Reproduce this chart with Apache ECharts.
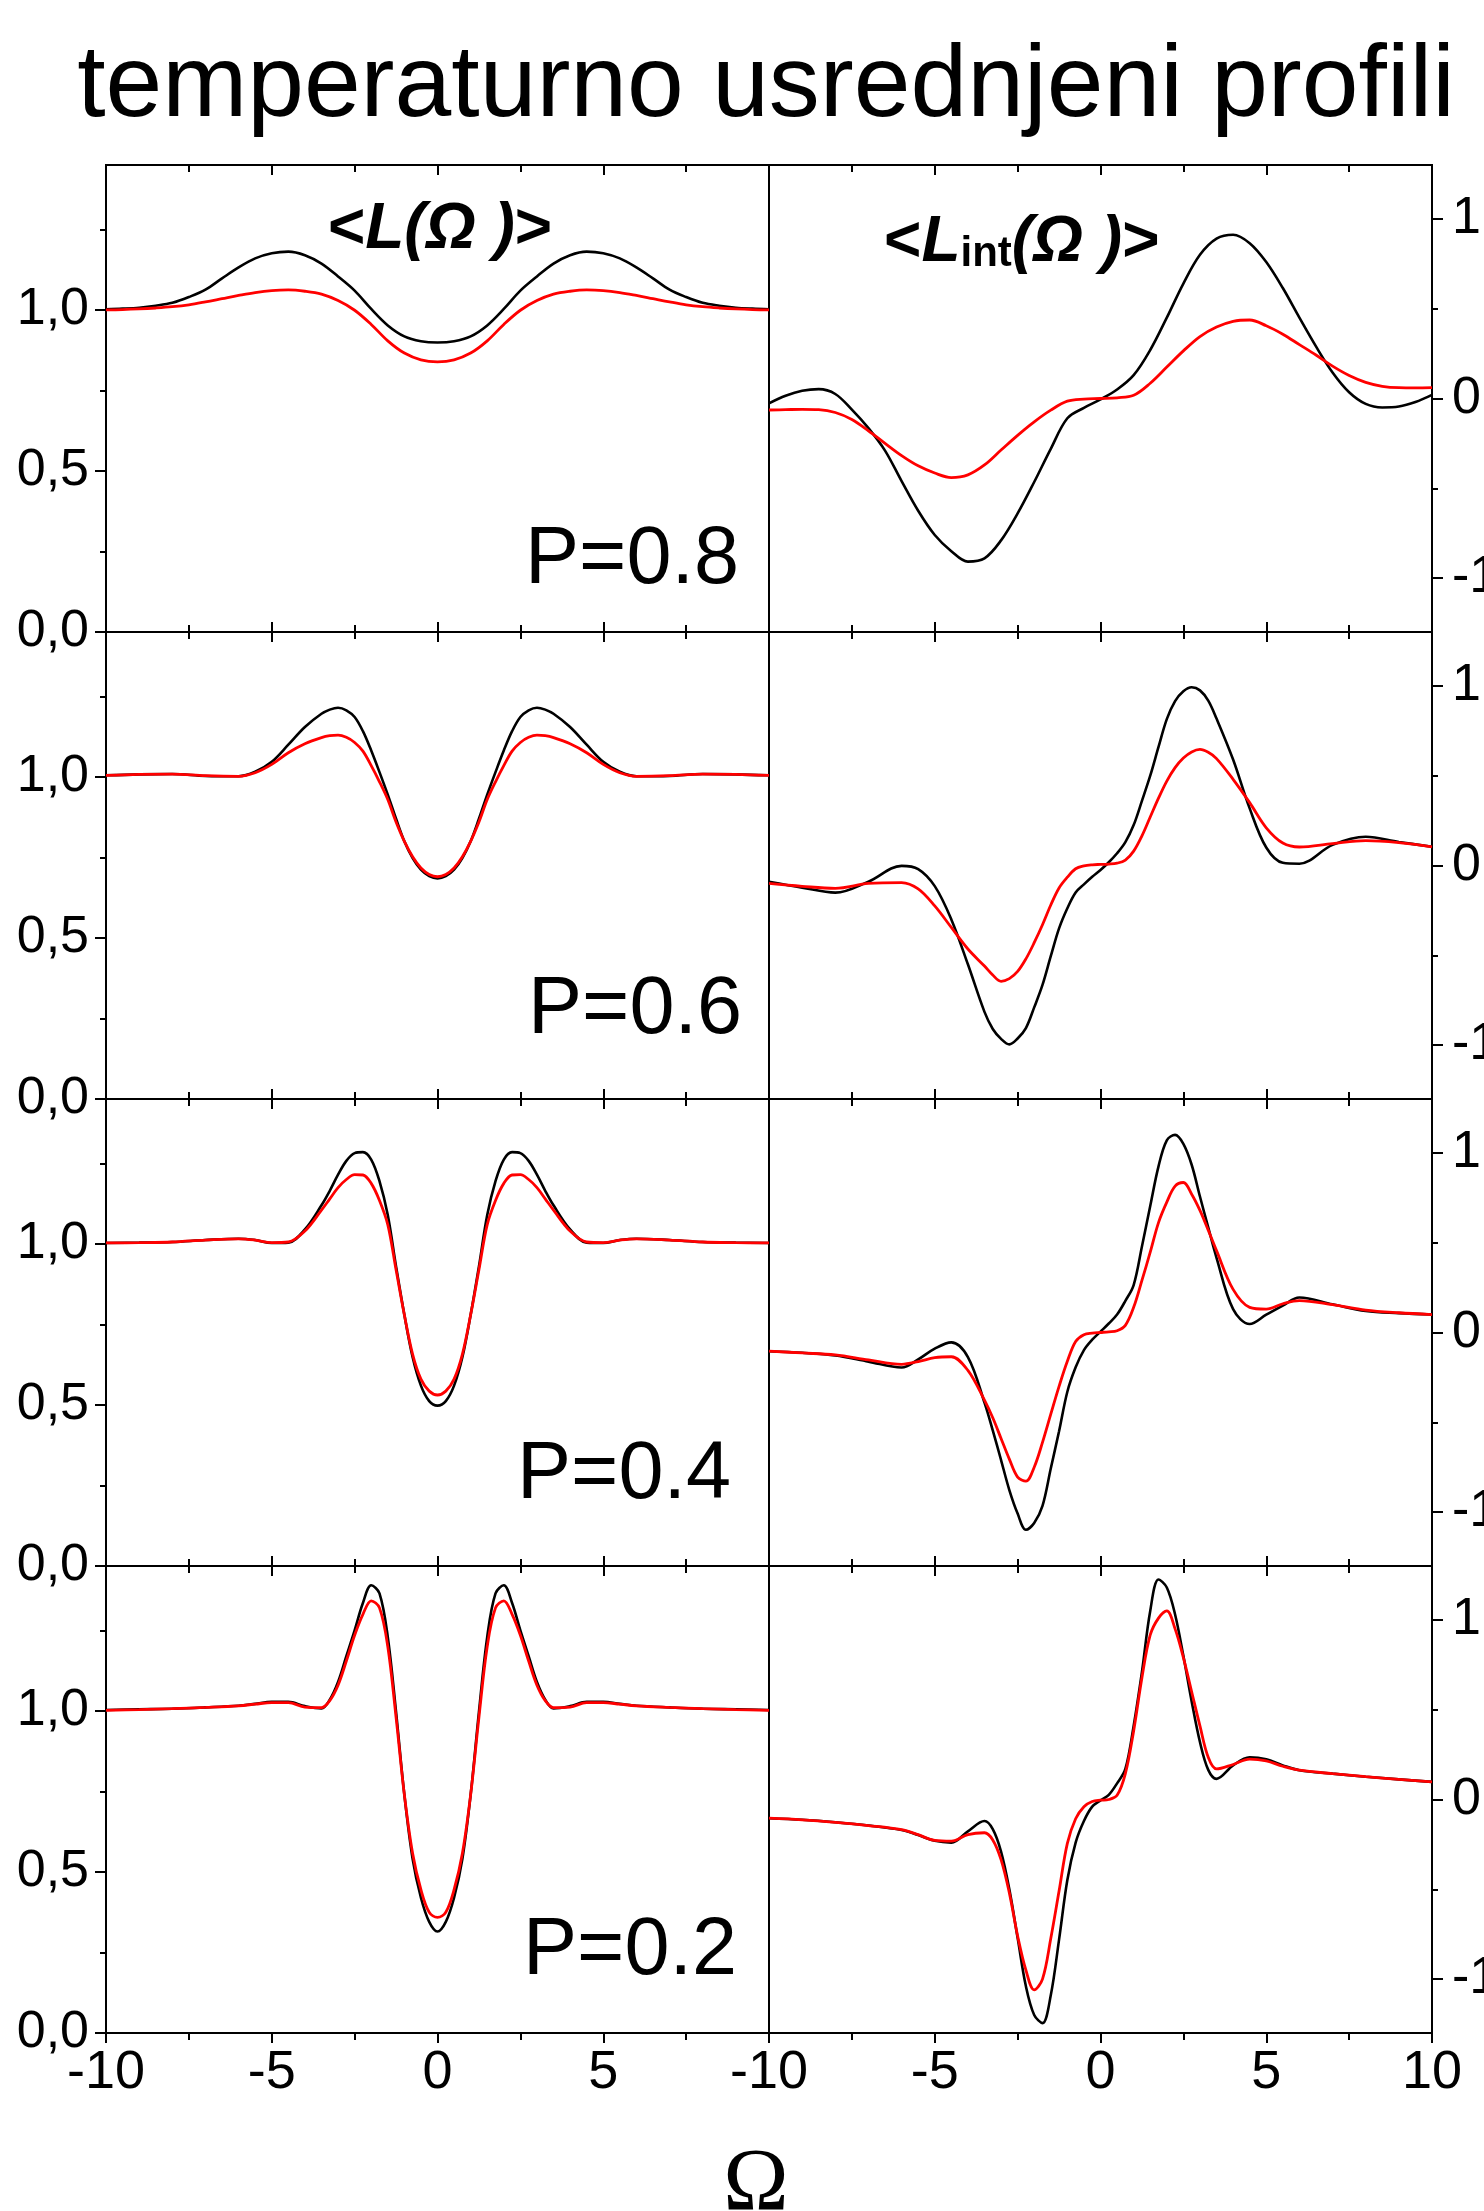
<!DOCTYPE html>
<html>
<head>
<meta charset="utf-8">
<script src="https://cdn.jsdelivr.net/npm/echarts@6/dist/echarts.min.js"></script>
<style>
  html, body { margin: 0; padding: 0; background: #fff; }
  #chart { width: 1484px; height: 2211px; }
</style>
</head>
<body>
<div id="chart"></div>
<script>
// ---- frequency grids (Ω) ----
const OMEGA_P08 = [-10,-9.5,-9,-8.5,-8,-7.5,-7,-6.5,-6,-5.5,-5,-4.5,-4,-3.5,-3,-2.5,-2,-1.5,-1,-0.5,0,
                   0.5,1,1.5,2,2.5,3,3.5,4,4.5,5,5.5,6,6.5,7,7.5,8,8.5,9,9.5,10];
const OMEGA_FINE = [-10,-9,-8,-7,-6,-5.5,-5,-4.5,-4,-3.5,-3.25,-3,-2.75,-2.5,-2.25,-2,-1.75,-1.5,-1.25,-1,-0.75,-0.5,-0.25,0,
                    0.25,0.5,0.75,1,1.25,1.5,1.75,2,2.25,2.5,2.75,3,3.25,3.5,4,4.5,5,5.5,6,7,8,9,10];

// ---- P = 0.8 ----
const L_P08_BLACK = [1.002,1.004,1.007,1.013,1.022,1.040,1.063,1.098,1.132,1.160,1.176,1.181,1.170,1.144,1.104,1.060,1.003,0.952,0.918,0.903,0.899,
                     0.903,0.918,0.952,1.003,1.060,1.104,1.144,1.170,1.181,1.176,1.160,1.132,1.098,1.063,1.040,1.022,1.013,1.007,1.004,1.002];
const L_P08_RED = [1.000,1.001,1.003,1.006,1.010,1.016,1.025,1.035,1.045,1.054,1.060,1.062,1.058,1.049,1.029,0.999,0.955,0.904,0.866,0.845,0.839,
                   0.845,0.866,0.904,0.955,0.999,1.029,1.049,1.058,1.062,1.060,1.054,1.045,1.035,1.025,1.016,1.010,1.006,1.003,1.001,1.000];
const LINT_P08_BLACK = [-0.027,0.015,0.043,0.052,0.025,-0.062,-0.165,-0.290,-0.460,-0.625,-0.760,-0.850,-0.908,-0.890,-0.790,-0.640,-0.465,-0.280,-0.110,-0.052,-0.005,
                        0.050,0.130,0.270,0.450,0.640,0.800,0.890,0.912,0.865,0.760,0.615,0.450,0.290,0.145,0.035,-0.030,-0.050,-0.045,-0.020,0.020];
const LINT_P08_RED = [-0.064,-0.062,-0.060,-0.062,-0.078,-0.117,-0.180,-0.250,-0.318,-0.375,-0.415,-0.440,-0.425,-0.370,-0.287,-0.205,-0.130,-0.065,-0.015,-0.003,0.000,
                      0.004,0.018,0.085,0.175,0.265,0.345,0.398,0.430,0.437,0.405,0.358,0.300,0.242,0.180,0.128,0.090,0.068,0.060,0.059,0.060];

// ---- P = 0.6 ----
const L_P06_BLACK = [1.005,1.008,1.009,1.003,1.002,1.016,1.047,1.100,1.155,1.196,1.209,1.215,1.207,1.186,1.142,1.082,1.015,0.945,0.870,0.800,0.748,0.712,0.692,0.685,
                     0.692,0.712,0.748,0.800,0.870,0.945,1.015,1.082,1.142,1.186,1.207,1.215,1.209,1.196,1.155,1.100,1.047,1.016,1.002,1.003,1.009,1.008,1.005];
const L_P06_RED = [1.005,1.008,1.009,1.004,1.002,1.013,1.039,1.075,1.103,1.122,1.128,1.130,1.123,1.107,1.080,1.035,0.985,0.930,0.860,0.800,0.752,0.717,0.697,0.690,
                   0.697,0.717,0.752,0.800,0.860,0.930,0.985,1.035,1.080,1.107,1.123,1.130,1.128,1.122,1.103,1.075,1.039,1.013,1.002,1.004,1.009,1.008,1.005];
const LINT_P06_BLACK = [-0.090,-0.123,-0.151,-0.090,-0.002,-0.020,-0.115,-0.300,-0.550,-0.815,-0.910,-0.965,-0.996,-0.963,-0.905,-0.790,-0.665,-0.505,-0.350,-0.238,-0.150,-0.105,-0.063,-0.025,
                        0.018,0.068,0.130,0.225,0.360,0.500,0.660,0.815,0.915,0.970,0.992,0.975,0.918,0.818,0.590,0.318,0.100,0.015,0.010,0.115,0.160,0.131,0.104];
const LINT_P06_RED = [-0.100,-0.116,-0.127,-0.100,-0.095,-0.130,-0.225,-0.345,-0.465,-0.560,-0.610,-0.645,-0.630,-0.590,-0.520,-0.430,-0.330,-0.220,-0.125,-0.065,-0.018,-0.002,0.004,0.006,
                      0.008,0.013,0.030,0.080,0.165,0.270,0.375,0.470,0.545,0.598,0.632,0.646,0.630,0.595,0.480,0.350,0.210,0.125,0.103,0.122,0.138,0.127,0.104];

// ---- P = 0.4 ----
const L_P04_BLACK = [1.003,1.004,1.006,1.012,1.016,1.012,1.003,1.004,1.045,1.120,1.165,1.215,1.258,1.282,1.285,1.262,1.195,1.090,0.930,0.780,0.648,0.560,0.512,0.498,
                     0.512,0.560,0.648,0.780,0.930,1.090,1.195,1.262,1.285,1.282,1.258,1.215,1.165,1.120,1.045,1.004,1.003,1.012,1.016,1.012,1.006,1.004,1.003];
const L_P04_RED = [1.003,1.004,1.006,1.012,1.016,1.012,1.004,1.006,1.040,1.105,1.140,1.175,1.200,1.215,1.214,1.188,1.135,1.060,0.920,0.780,0.657,0.580,0.543,0.531,
                   0.543,0.580,0.657,0.780,0.920,1.060,1.135,1.188,1.214,1.215,1.200,1.175,1.140,1.105,1.040,1.006,1.004,1.012,1.016,1.012,1.006,1.004,1.003];
const LINT_P04_BLACK = [-0.104,-0.113,-0.128,-0.162,-0.195,-0.150,-0.090,-0.055,-0.137,-0.390,-0.545,-0.710,-0.877,-1.008,-1.098,-1.060,-0.965,-0.757,-0.550,-0.330,-0.194,-0.098,-0.040,0.005,
                        0.050,0.100,0.176,0.264,0.479,0.704,0.925,1.070,1.100,1.050,0.934,0.757,0.585,0.416,0.130,0.047,0.099,0.150,0.195,0.157,0.120,0.108,0.100];
const LINT_P04_RED = [-0.104,-0.114,-0.125,-0.153,-0.177,-0.162,-0.140,-0.135,-0.211,-0.377,-0.475,-0.590,-0.705,-0.805,-0.828,-0.750,-0.612,-0.455,-0.300,-0.160,-0.050,-0.012,-0.004,0.000,
                      0.004,0.010,0.040,0.140,0.290,0.447,0.612,0.726,0.815,0.835,0.770,0.680,0.570,0.456,0.240,0.140,0.130,0.160,0.178,0.155,0.125,0.110,0.100];

// ---- P = 0.2 ----
const L_P02_BLACK = [1.003,1.005,1.007,1.011,1.016,1.022,1.028,1.028,1.015,1.008,1.035,1.090,1.170,1.250,1.335,1.390,1.365,1.230,0.997,0.740,0.540,0.420,0.345,0.315,
                     0.345,0.420,0.540,0.740,0.997,1.230,1.365,1.390,1.335,1.250,1.170,1.090,1.035,1.008,1.015,1.028,1.028,1.022,1.016,1.011,1.007,1.005,1.003];
const L_P02_RED = [1.002,1.004,1.007,1.011,1.016,1.021,1.026,1.026,1.012,1.010,1.032,1.080,1.155,1.235,1.300,1.342,1.320,1.200,0.980,0.740,0.557,0.445,0.375,0.359,
                   0.375,0.445,0.557,0.740,0.980,1.200,1.320,1.342,1.300,1.235,1.155,1.080,1.032,1.010,1.012,1.026,1.026,1.021,1.016,1.011,1.007,1.004,1.002];
const LINT_P02_BLACK = [-0.104,-0.113,-0.127,-0.145,-0.170,-0.198,-0.230,-0.240,-0.177,-0.120,-0.165,-0.290,-0.500,-0.770,-1.040,-1.200,-1.245,-1.090,-0.780,-0.448,-0.240,-0.120,-0.040,-0.005,
                        0.026,0.090,0.170,0.410,0.710,1.050,1.225,1.180,1.030,0.800,0.546,0.320,0.165,0.115,0.190,0.235,0.224,0.190,0.163,0.144,0.127,0.112,0.098];
const LINT_P02_RED = [-0.104,-0.113,-0.127,-0.145,-0.168,-0.196,-0.228,-0.232,-0.195,-0.185,-0.225,-0.335,-0.520,-0.760,-0.950,-1.060,-1.000,-0.774,-0.510,-0.244,-0.107,-0.040,-0.011,-0.004,
                      0.000,0.023,0.144,0.382,0.678,0.916,1.010,1.050,0.950,0.790,0.600,0.410,0.235,0.170,0.195,0.225,0.215,0.185,0.163,0.144,0.127,0.112,0.098];

// ---- axis ticks and texts ----
const L_MAJOR_TICKS = [0, 0.5, 1.0];
const L_MINOR_TICKS = [0.25, 0.75, 1.25];
const LINT_MAJOR_TICKS = [-1, 0, 1];
const LINT_MINOR_TICKS = [-0.5, 0.5];
const TITLE = 'temperaturno usrednjeni profili';
const P_LABELS = ['P=0.8', 'P=0.6', 'P=0.4', 'P=0.2'];
const X_NAME = 'Ω';

// rows top-to-bottom, columns: <L(Ω)>, <Lint(Ω)>
const PANELS = [
  [{ x: OMEGA_P08, black: L_P08_BLACK, red: L_P08_RED }, { x: OMEGA_P08, black: LINT_P08_BLACK, red: LINT_P08_RED }],
  [{ x: OMEGA_FINE, black: L_P06_BLACK, red: L_P06_RED }, { x: OMEGA_FINE, black: LINT_P06_BLACK, red: LINT_P06_RED }],
  [{ x: OMEGA_FINE, black: L_P04_BLACK, red: L_P04_RED }, { x: OMEGA_FINE, black: LINT_P04_BLACK, red: LINT_P04_RED }],
  [{ x: OMEGA_FINE, black: L_P02_BLACK, red: L_P02_RED }, { x: OMEGA_FINE, black: LINT_P02_BLACK, red: LINT_P02_RED }]
];

// ---- layout ----
const FONT = '"Liberation Sans", Arial, Helvetica, sans-serif';
const SERIF = '"Liberation Serif", "Times New Roman", serif';
const ROW_TOPS = [165, 632, 1099, 1566];
const ROW_H = 467;
const COL_LEFTS = [106, 769];
const COL_W = 663;
const INK = '#000';
const RED = '#ff0000';

const grids = [], xAxes = [], yAxes = [], series = [];

PANELS.forEach((row, r) => {
  row.forEach((panel, c) => {
    const g = grids.length;
    const isBottom = r === PANELS.length - 1;
    grids.push({
      left: COL_LEFTS[c], top: ROW_TOPS[r], width: COL_W, height: ROW_H,
      show: true, borderColor: INK, borderWidth: 2, backgroundColor: 'transparent',
      containLabel: false, outerBoundsMode: 'none'
    });

    const xBase = {
      gridIndex: g, type: 'value', min: -10, max: 10, interval: 5,
      axisLine: { show: true, onZero: false, lineStyle: { color: INK, width: 2 } },
      minorTick: { show: true, splitNumber: 2, length: 7, lineStyle: { color: INK, width: 2 } },
      splitLine: { show: false }, minorSplitLine: { show: false }
    };
    // bottom axis
    xAxes.push(Object.assign({}, xBase, {
      position: 'bottom',
      axisTick: { show: true, inside: !isBottom, length: 10, lineStyle: { color: INK, width: 2 } },
      axisLabel: {
        show: isBottom, margin: 13, color: INK, fontFamily: FONT, fontSize: 54,
        formatter: v => (c === 0 && v === 10) ? '' : String(v)
      }
    }));
    // top axis
    xAxes.push(Object.assign({}, xBase, {
      position: 'top',
      axisTick: { show: true, inside: true, length: 10, lineStyle: { color: INK, width: 2 } },
      axisLabel: { show: false }
    }));

    const isL = c === 0;
    const yMin = isL ? 0 : -1.3;
    const yMax = isL ? 1.45 : 1.3;
    const side = isL ? 'left' : 'right';
    const major = isL ? L_MAJOR_TICKS : LINT_MAJOR_TICKS;
    const minor = isL ? L_MINOR_TICKS : LINT_MINOR_TICKS;
    yAxes.push({
      gridIndex: g, type: 'value', min: yMin, max: yMax, position: side,
      axisLine: { show: true, onZero: false, lineStyle: { color: INK, width: 2 } },
      axisTick: { show: true, customValues: major, length: 11, lineStyle: { color: INK, width: 2 } },
      axisLabel: {
        show: true, customValues: major, margin: isL ? 17 : 20, color: INK, fontFamily: FONT, fontSize: 52,
        formatter: v => v.toFixed(1).replace('.', ',')
      },
      splitLine: { show: false }
    });
    yAxes.push({
      gridIndex: g, type: 'value', min: yMin, max: yMax, position: side,
      axisLine: { show: false, onZero: false },
      axisTick: { show: true, customValues: minor, length: 6, lineStyle: { color: INK, width: 2 } },
      axisLabel: { show: false },
      splitLine: { show: false }
    });

    const common = {
      type: 'line', xAxisIndex: 2 * g, yAxisIndex: 2 * g,
      showSymbol: false, symbol: 'none', smooth: 0.35, silent: true, clip: true
    };
    series.push(Object.assign({}, common, {
      name: 'black', data: panel.x.map((x, i) => [x, panel.black[i]]),
      lineStyle: { color: INK, width: 2.6 }, z: 3
    }));
    series.push(Object.assign({}, common, {
      name: 'red', data: panel.x.map((x, i) => [x, panel.red[i]]),
      lineStyle: { color: RED, width: 2.8 }, z: 4
    }));
  });
});

// ---- free texts ----
const P_LABEL_POS = [[739, 561], [742, 1011], [731, 1476], [737, 1952]];
const graphic = [
  { type: 'text', x: 766, y: 88, z: 10,
    style: { text: TITLE, font: `102px ${FONT}`, fill: INK, align: 'center', verticalAlign: 'middle' } },
  { type: 'text', x: 440, y: 230, z: 10,
    style: {
      text: '{b|<}{i|L(Ω )}{b|>}', align: 'center', verticalAlign: 'middle', fill: INK,
      rich: {
        b: { font: `bold 64px ${FONT}`, fill: INK, lineHeight: 64 },
        i: { font: `italic bold 64px ${FONT}`, fill: INK, lineHeight: 64 }
      }
    } },
  { type: 'text', x: 884, y: 243, z: 10,
    style: {
      text: '{b|<}{i|L}{s|int}{i|(Ω )}{b|>}', align: 'left', verticalAlign: 'middle', fill: INK,
      rich: {
        b: { font: `bold 64px ${FONT}`, fill: INK, lineHeight: 64 },
        i: { font: `italic bold 64px ${FONT}`, fill: INK, lineHeight: 64 },
        s: { font: `bold 42px ${FONT}`, fill: INK, lineHeight: 10, verticalAlign: 'bottom' }
      }
    } },
  { type: 'text', x: 756, y: 2186, z: 10,
    style: { text: X_NAME, font: `88px ${SERIF}`, fill: INK, align: 'center', verticalAlign: 'middle' } }
];
P_LABELS.forEach((t, i) => {
  graphic.push({ type: 'text', x: P_LABEL_POS[i][0], y: P_LABEL_POS[i][1], z: 10,
    style: { text: t, font: `81px ${FONT}`, fill: INK, align: 'right', verticalAlign: 'middle' } });
});

const chart = echarts.init(document.getElementById('chart'), null, { renderer: 'canvas' });
chart.setOption({
  animation: false,
  backgroundColor: '#fff',
  grid: grids,
  xAxis: xAxes,
  yAxis: yAxes,
  series: series,
  graphic: graphic
});
</script>
</body>
</html>
